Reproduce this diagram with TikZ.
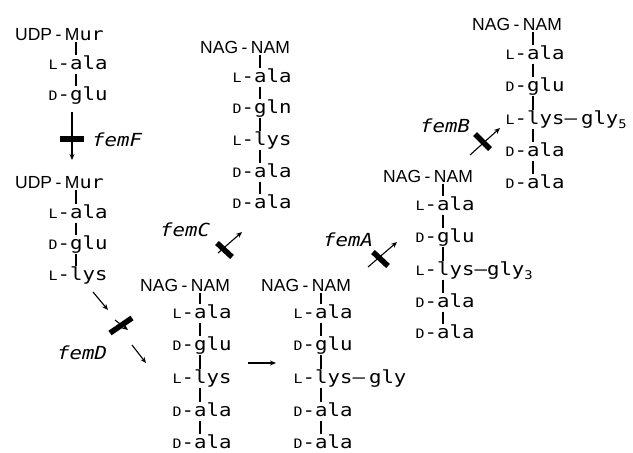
\documentclass[tikz,border=0pt]{standalone}
\usepackage{fontspec}
\setmainfont{Liberation Sans}
\newfontfamily\resfont[FakeStretch=1.15]{DejaVu Sans Mono}
\usetikzlibrary{arrows.meta}
\newcommand\pfx[1]{\makebox[0pt][r]{{\fontsize{13}{13}\selectfont #1}-}}
\newcommand\nagnam{NAG\hspace{3.5pt}-\hspace{3.5pt}NAM}
\newcommand\subnum[1]{\raisebox{-4pt}{\fontsize{12}{12}\selectfont #1}}
\tikzset{
  res/.style={anchor=base west, inner sep=0pt, font={\resfont\fontsize{18}{18}\selectfont}, text height=14pt, text depth=4.5pt},
  head/.style={anchor=base west, inner sep=0pt, font={\fontsize{17.5}{17.5}\selectfont}, text depth=2pt},
  femlab/.style={anchor=base west, inner sep=0pt, font={\resfont\itshape\fontsize{18}{18}\selectfont}},
  bond/.style={line width=1.2pt},
  conn/.style={line width=1.1pt, -{Stealth[length=6pt,width=5pt]}},
  bar/.style={line width=5.5pt}
}
\begin{document}
\begin{tikzpicture}[x=1pt,y=-1pt]
\useasboundingbox (0,0) rectangle (633,453);

% ---------- chain 1: UDP-Mur-ala-glu
\node[head] (c1h) at (15,40) {UDP\hspace{3.5pt}-\hspace{3.5pt}M{\resfont ur}};
\node[res] (c1a) at (70,69) {\pfx{L}ala};
\node[res] (c1b) at (70,100) {\pfx{D}glu};
\draw[bond] ([xshift=6pt]c1a.north west) -- ([xshift=6pt]c1a.north west |- c1h.south);
\draw[bond] ([xshift=6pt]c1a.south west) -- ([xshift=6pt]c1b.north west);

% femF
\coordinate (fFs) at (72,112);
\coordinate (fFe) at (72,160);
\coordinate (fFb1) at (60,139);
\coordinate (fFb2) at (84,139);
\draw[conn] (fFs) -- (fFe);
\draw[bar] (fFb1) -- (fFb2);
\node[femlab] (lF) at (92,146) {femF};

% ---------- chain 2: UDP-Mur-ala-glu-lys
\node[head] (c2h) at (15,188) {UDP\hspace{3.5pt}-\hspace{3.5pt}M{\resfont ur}};
\node[res] (c2a) at (70,218) {\pfx{L}ala};
\node[res] (c2b) at (70,249) {\pfx{D}glu};
\node[res] (c2c) at (70,280) {\pfx{L}lys};
\draw[bond] ([xshift=6pt]c2a.north west) -- ([xshift=6pt]c2a.north west |- c2h.south);
\draw[bond] ([xshift=6pt]c2a.south west) -- ([xshift=6pt]c2b.north west);
\draw[bond] ([xshift=6pt]c2b.south west) -- ([xshift=6pt]c2c.north west);

% femD
\coordinate (fD1s) at (93,292);
\coordinate (fD1e) at (108,310);
\coordinate (fD2s) at (115,320);
\coordinate (fD2e) at (128,330);
\coordinate (fD3s) at (132,345);
\coordinate (fD3e) at (146,363);
\coordinate (fDb1) at (110,333);
\coordinate (fDb2) at (132,318);
\draw[conn] (fD1s) -- (fD1e);
\draw[conn] (fD2s) -- (fD2e);
\draw[conn] (fD3s) -- (fD3e);
\draw[bar] (fDb1) -- (fDb2);
\node[femlab] (lD) at (57,359) {femD};

% ---------- chain C (top middle)
\node[head] (cCh) at (200,53) {\nagnam};
\node[res] (cCa) at (254,82) {\pfx{L}ala};
\node[res] (cCb) at (254,113) {\pfx{D}gln};
\node[res] (cCc) at (254,145) {\pfx{L}lys};
\node[res] (cCd) at (254,177) {\pfx{D}ala};
\node[res] (cCe) at (254,208) {\pfx{D}ala};
\draw[bond] ([xshift=6pt]cCa.north west) -- ([xshift=6pt]cCa.north west |- cCh.south);
\draw[bond] ([xshift=6pt]cCa.south west) -- ([xshift=6pt]cCb.north west);
\draw[bond] ([xshift=6pt]cCb.south west) -- ([xshift=6pt]cCc.north west);
\draw[bond] ([xshift=6pt]cCc.south west) -- ([xshift=6pt]cCd.north west);
\draw[bond] ([xshift=6pt]cCd.south west) -- ([xshift=6pt]cCe.north west);

% femC
\coordinate (fCs) at (218,253);
\coordinate (fCe) at (242,232);
\coordinate (fCb1) at (217,243);
\coordinate (fCb2) at (232,257);
\draw[conn] (fCs) -- (fCe);
\draw[bar] (fCb1) -- (fCb2);
\node[femlab] (lC) at (160,236) {femC};

% ---------- chain 3 (bottom middle)
\node[head] (c3h) at (140,291) {\nagnam};
\node[res] (c3a) at (194,318) {\pfx{L}ala};
\node[res] (c3b) at (194,350) {\pfx{D}glu};
\node[res] (c3c) at (194,383) {\pfx{L}lys};
\node[res] (c3d) at (194,416) {\pfx{D}ala};
\node[res] (c3e) at (194,448) {\pfx{D}ala};
\draw[bond] ([xshift=6pt]c3a.north west) -- ([xshift=6pt]c3a.north west |- c3h.south);
\draw[bond] ([xshift=6pt]c3a.south west) -- ([xshift=6pt]c3b.north west);
\draw[bond] ([xshift=6pt]c3b.south west) -- ([xshift=6pt]c3c.north west);
\draw[bond] ([xshift=6pt]c3c.south west) -- ([xshift=6pt]c3d.north west);
\draw[bond] ([xshift=6pt]c3d.south west) -- ([xshift=6pt]c3e.north west);

% arrow chain 3 -> chain 4
\coordinate (a34s) at (248,363);
\coordinate (a34e) at (276,363);
\draw[conn] (a34s) -- (a34e);

% ---------- chain 4
\node[head] (c4h) at (261,291) {\nagnam};
\node[res] (c4a) at (315,318) {\pfx{L}ala};
\node[res] (c4b) at (315,350) {\pfx{D}glu};
\node[res] (c4c) at (315,383) {\pfx{L}lys–\hspace{4pt}gly};
\node[res] (c4d) at (315,416) {\pfx{D}ala};
\node[res] (c4e) at (315,448) {\pfx{D}ala};
\draw[bond] ([xshift=6pt]c4a.north west) -- ([xshift=6pt]c4a.north west |- c4h.south);
\draw[bond] ([xshift=6pt]c4a.south west) -- ([xshift=6pt]c4b.north west);
\draw[bond] ([xshift=6pt]c4b.south west) -- ([xshift=6pt]c4c.north west);
\draw[bond] ([xshift=6pt]c4c.south west) -- ([xshift=6pt]c4d.north west);
\draw[bond] ([xshift=6pt]c4d.south west) -- ([xshift=6pt]c4e.north west);

% femA
\coordinate (fAs) at (368,267);
\coordinate (fAe) at (397,242);
\coordinate (fAb1) at (373,252);
\coordinate (fAb2) at (388,266);
\draw[conn] (fAs) -- (fAe);
\draw[bar] (fAb1) -- (fAb2);
\node[femlab] (lA) at (323,246) {femA};

% ---------- chain 5
\node[head] (c5h) at (383,182) {\nagnam};
\node[res] (c5a) at (437,210) {\pfx{L}ala};
\node[res] (c5b) at (437,242) {\pfx{D}glu};
\node[res] (c5c) at (437,275) {\pfx{L}lys–gly\subnum{3}};
\node[res] (c5d) at (437,307) {\pfx{D}ala};
\node[res] (c5e) at (437,338) {\pfx{D}ala};
\draw[bond] ([xshift=6pt]c5a.north west) -- ([xshift=6pt]c5a.north west |- c5h.south);
\draw[bond] ([xshift=6pt]c5a.south west) -- ([xshift=6pt]c5b.north west);
\draw[bond] ([xshift=6pt]c5b.south west) -- ([xshift=6pt]c5c.north west);
\draw[bond] ([xshift=6pt]c5c.south west) -- ([xshift=6pt]c5d.north west);
\draw[bond] ([xshift=6pt]c5d.south west) -- ([xshift=6pt]c5e.north west);

% femB
\coordinate (fBs) at (470,155);
\coordinate (fBe) at (500,128);
\coordinate (fBb1) at (475,134);
\coordinate (fBb2) at (490,149);
\draw[conn] (fBs) -- (fBe);
\draw[bar] (fBb1) -- (fBb2);
\node[femlab] (lB) at (420,132) {femB};

% ---------- chain 6
\node[head] (c6h) at (472,30) {\nagnam};
\node[res] (c6a) at (527,59) {\pfx{L}ala};
\node[res] (c6b) at (527,91) {\pfx{D}glu};
\node[res] (c6c) at (527,124) {\pfx{L}lys–\hspace{4pt}gly\subnum{5}};
\node[res] (c6d) at (527,156) {\pfx{D}ala};
\node[res] (c6e) at (527,188) {\pfx{D}ala};
\draw[bond] ([xshift=6pt]c6a.north west) -- ([xshift=6pt]c6a.north west |- c6h.south);
\draw[bond] ([xshift=6pt]c6a.south west) -- ([xshift=6pt]c6b.north west);
\draw[bond] ([xshift=6pt]c6b.south west) -- ([xshift=6pt]c6c.north west);
\draw[bond] ([xshift=6pt]c6c.south west) -- ([xshift=6pt]c6d.north west);
\draw[bond] ([xshift=6pt]c6d.south west) -- ([xshift=6pt]c6e.north west);
\end{tikzpicture}
\end{document}
